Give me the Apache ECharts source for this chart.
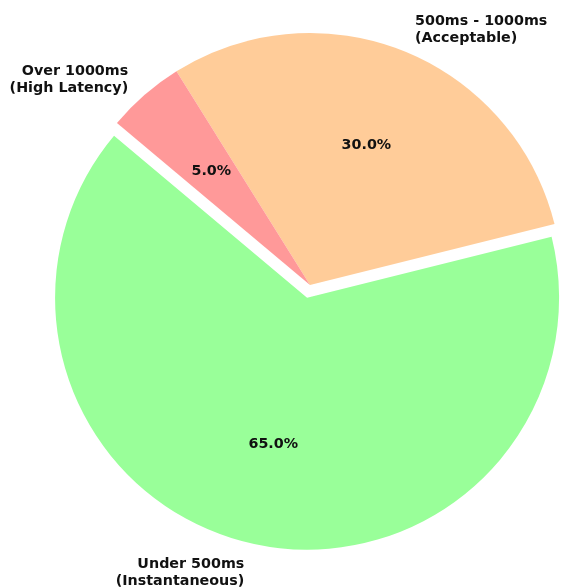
<!DOCTYPE html>
<html>
<head>
<meta charset="utf-8">
<script src="https://cdn.jsdelivr.net/npm/echarts@6/dist/echarts.min.js"></script>
<style>html,body{margin:0;padding:0;background:#fff}#c{width:561px;height:588px}</style>
</head>
<body>
<div id="c"></div>
<script>
const categories = ['Under 500ms\n(Instantaneous)', '500ms - 1000ms\n(Acceptable)', 'Over 1000ms\n(High Latency)'];
const shares = [65, 30, 5];
const colors = ['#99ff99', '#ffcc99', '#ff9999'];
const exploded = [true, false, false];

const R = 252;
const center = [310, 285];
const offset = 13;
// per-slice label placement tuning (label line lengths, not shown)
const labelLen = [30, 23, 19.5];
const labelLen2 = [-0.7, 2, 3.7];

const font = { fontFamily: 'DejaVu Sans', fontWeight: 'bold', fontSize: 14.3, color: '#111' };

const sliceData = categories.map((name, i) => ({
  name, value: shares[i], selected: exploded[i],
  itemStyle: { color: colors[i] },
  labelLine: { show: false, length: labelLen[i], length2: labelLen2[i] }
}));
const pctData = categories.map((name, i) => ({
  name, value: shares[i], selected: exploded[i]
}));

const chart = echarts.init(document.getElementById('c'), null, { renderer: 'canvas' });
chart.setOption({
  animation: false,
  backgroundColor: '#fff',
  series: [
    {
      type: 'pie', center, radius: [0, R],
      startAngle: 140, clockwise: false,
      selectedMode: 'multiple', selectedOffset: offset,
      avoidLabelOverlap: false,
      emphasis: { disabled: true },
      silent: true,
      label: Object.assign({ show: true, position: 'outside', formatter: '{b}', lineHeight: 17, distanceToLabelLine: 0, alignTo: 'none' }, font),
      labelLine: { show: false },
      data: sliceData
    },
    {
      type: 'pie', center, radius: [0, R * 1.17],
      startAngle: 140, clockwise: false,
      selectedMode: 'multiple', selectedOffset: offset,
      avoidLabelOverlap: false,
      emphasis: { disabled: true },
      silent: true,
      itemStyle: { color: 'rgba(0,0,0,0)' },
      label: Object.assign({ show: true, position: 'inside', formatter: p => p.value.toFixed(1) + '%' }, font),
      labelLine: { show: false },
      data: pctData
    }
  ]
});
</script>
</body>
</html>
